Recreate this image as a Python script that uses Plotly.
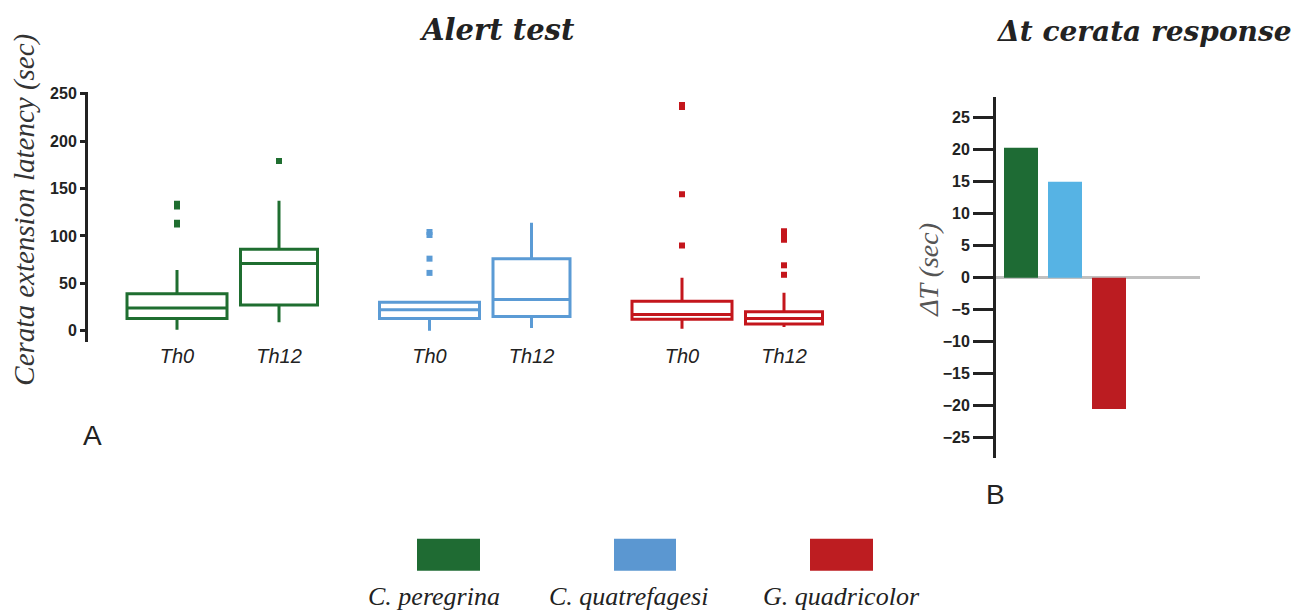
import plotly.graph_objects as go

# ---------------- data ----------------
species = ["C. peregrina", "C. quatrefagesi", "G. quadricolor"]
conditions = ["Th0", "Th12"]

q1_vals = [[13, 27], [13, 15], [12, 7]]
median_vals = [[24, 71], [22, 33], [17, 13]]
q3_vals = [[39, 86], [30, 76], [31, 20]]
lower_whisker = [[1, 9], [0, 3], [2, 4]]
upper_whisker = [[64, 137], [30, 114], [56, 40]]
outlier_vals = [
    [[112, 114, 131, 134], [179]],
    [[61, 76, 101, 104], []],
    [[90, 144, 236, 238], [59, 69, 96, 102, 105]],
]

delta_t = [20.3, 15.0, -20.5]

left_ticks = [0, 50, 100, 150, 200, 250]
right_ticks = [-25, -20, -15, -10, -5, 0, 5, 10, 15, 20, 25]

# ---------------- styling ----------------
W, H = 1302, 614
Y_OFF, H_EFF = 8, 606   # measured rendering offset of the page
box_colors = ["#1f6e30", "#5b9bd5", "#c4161c"]
bar_colors = ["#1e6b34", "#56b3e4", "#bb1c21"]
legend_colors = ["#1f6b33", "#5b97d1", "#bd1d21"]
serif = "Liberation Serif"
title_serif = "DejaVu Serif"
sans = "Liberation Sans"


def px_x(p):
    return p / W


def px_y(p):
    return 1 - (p - Y_OFF) / H_EFF


left_x0, left_x1 = 88, 860
right_x0, right_x1 = 996, 1200
group_step, pair_step, first_center = 252.5, 102, 177
box_widths = [100, 77]
bar_first, bar_step, bar_width = 1021, 44, 34

fig = go.Figure()

tick_pos, tick_txt = [], []
for g, sp in enumerate(species):
    for s, cond in enumerate(conditions):
        pos = first_center + g * group_step + s * pair_step
        tick_pos.append(pos)
        tick_txt.append(cond)
        fig.add_trace(go.Box(
            x=[pos],
            q1=[q1_vals[g][s]], median=[median_vals[g][s]], q3=[q3_vals[g][s]],
            lowerfence=[lower_whisker[g][s]], upperfence=[upper_whisker[g][s]],
            width=box_widths[s], whiskerwidth=0,
            line=dict(color=box_colors[g], width=3),
            fillcolor="rgba(255,255,255,0)",
            boxpoints=False, showlegend=False,
            xaxis="x", yaxis="y",
        ))
        pts = outlier_vals[g][s]
        if pts:
            fig.add_trace(go.Scatter(
                x=[pos] * len(pts), y=pts, mode="markers",
                marker=dict(symbol="square", size=6, color=box_colors[g]),
                showlegend=False, xaxis="x", yaxis="y",
            ))

fig.add_trace(go.Bar(
    x=[bar_first + i * bar_step for i in range(len(species))],
    y=delta_t, width=bar_width,
    marker=dict(color=bar_colors, line=dict(width=0)),
    showlegend=False, xaxis="x2", yaxis="y2",
))

fig.update_layout(
    width=W, height=H, margin=dict(l=0, r=0, t=0, b=0),
    paper_bgcolor="white", plot_bgcolor="white",
    xaxis=dict(domain=[px_x(left_x0), px_x(left_x1)], range=[left_x0, left_x1],
               showline=False, showgrid=False, zeroline=False,
               tickvals=tick_pos, ticktext=tick_txt, ticks="",
               tickfont=dict(family=sans, size=20, style="italic", color="#222")),
    yaxis=dict(domain=[px_y(343), px_y(93.5)], range=[-12, 252],
               showline=True, linecolor="#222", linewidth=3,
               showgrid=False, zeroline=False,
               tickvals=left_ticks, ticks="outside", ticklen=5, tickwidth=3, tickcolor="#222",
               tickfont=dict(family=sans, size=16, weight="bold", color="#222")),
    xaxis2=dict(domain=[px_x(right_x0), px_x(right_x1)], range=[right_x0, right_x1],
                showline=False, showgrid=False, zeroline=False, showticklabels=False,
                anchor="y2"),
    yaxis2=dict(domain=[px_y(458.3), px_y(98.3)], range=[-28.13, 28.29],
                anchor="x2",
                showline=True, linecolor="#222", linewidth=3,
                showgrid=False, zeroline=True, zerolinecolor="#c0c0c0", zerolinewidth=3,
                tickvals=right_ticks, ticks="outside", ticklen=20, tickwidth=3, tickcolor="#222",
                tickfont=dict(family=sans, size=16, weight="bold", color="#222")),
)

annotations = [
    dict(text="<b><i>Alert test</i></b>", x=px_x(497), y=px_y(32),
         font=dict(family=title_serif, size=29, color="#222")),
    dict(text="<b><i>Δt cerata response</i></b>", x=px_x(1144), y=px_y(33),
         font=dict(family=title_serif, size=28, color="#222")),
    dict(text="<i>Cerata extension latency (sec)</i>", x=px_x(25), y=px_y(211),
         textangle=-90, font=dict(family=serif, size=29, color="#333")),
    dict(text="<i>ΔT (sec)</i>", x=px_x(929), y=px_y(271),
         textangle=-90, font=dict(family=serif, size=28, color="#555")),
    dict(text="A", x=px_x(92), y=px_y(436), font=dict(family=sans, size=28, color="#222")),
    dict(text="B", x=px_x(995), y=px_y(495), font=dict(family=sans, size=28, color="#222")),
]

legend_rects = [(417, 480), (614, 676), (810, 873)]
legend_text_cx = [434, 628, 841]
shapes = []
for i, sp in enumerate(species):
    x0, x1 = legend_rects[i]
    shapes.append(dict(type="rect", xref="paper", yref="paper",
                       x0=px_x(x0), x1=px_x(x1), y0=px_y(571), y1=px_y(539),
                       fillcolor=legend_colors[i], line=dict(width=0)))
    annotations.append(dict(text=f"<i>{sp}</i>", x=px_x(legend_text_cx[i]), y=px_y(597),
                            font=dict(family=serif, size=26, color="#222")))

for a in annotations:
    a.update(xref="paper", yref="paper", showarrow=False, xanchor="center", yanchor="middle")

fig.update_layout(annotations=annotations, shapes=shapes)
fig.write_html("out.html")
